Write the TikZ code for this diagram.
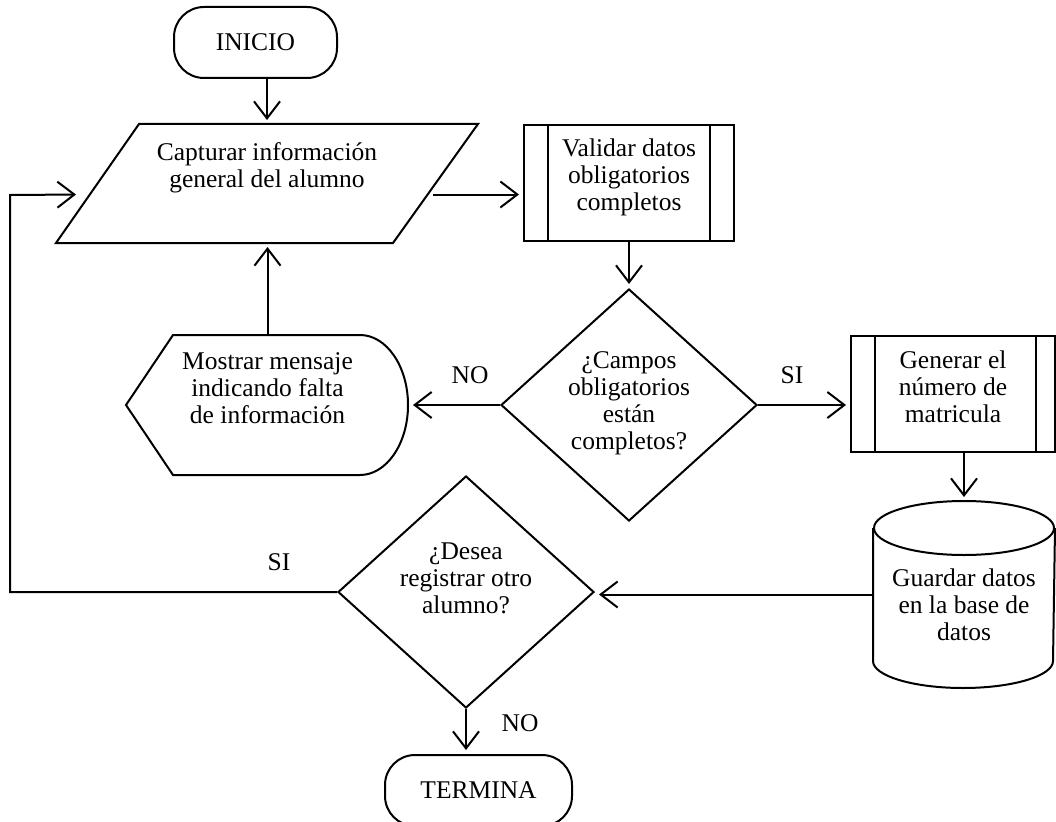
\documentclass[tikz,border=0pt]{standalone}
\usepackage{fontspec}
\setmainfont{Liberation Serif}
\usetikzlibrary{shapes.geometric}
\usetikzlibrary{calc}
\usetikzlibrary{arrows.meta}

\begin{document}
\begin{tikzpicture}[x=1pt, y=-1pt, line width=2pt, font=\fontsize{25.5}{27}\selectfont,
    flecha/.style={-{Straight Barb[length=17pt,width=26pt]}, shorten >=4pt},
    caja/.style={draw, rectangle, minimum width=210pt, minimum height=116pt, inner sep=0pt},
    decision/.style={draw, diamond, minimum width=256pt, minimum height=232pt, inner sep=0pt},
    terminal/.style={draw, rectangle, rounded corners=30pt, minimum height=71pt, inner sep=0pt},
    hueco/.style={minimum width=#1, inner sep=0pt},
    texto/.style={align=center, inner sep=0pt}]
    \useasboundingbox (0,0) rectangle (1056,821);

    \node[terminal, minimum width=163pt] (inicio) at (255.5,42.5) {INICIO};

    % datos de entrada
    \node[hueco=420pt, minimum height=117pt] (captura) at (267,183.5) {};
    \draw (captura.south west) -- ([xshift=83pt]captura.north west) -- (captura.north east)
          -- ([xshift=-85pt]captura.south east) -- cycle;
    \node[texto] (capturatxt) at ([yshift=16pt]captura.center) {Capturar información\\general del alumno};

    \node[caja] (validar) at (629,183) {};
    \draw ([xshift=25pt]validar.north west) -- ([xshift=25pt]validar.south west);
    \draw ([xshift=-25pt]validar.north east) -- ([xshift=-25pt]validar.south east);
    \node[texto] (validartxt) at ([yshift=6pt]validar.center) {Validar datos\\obligatorios\\completos};

    \node[decision] (campos) at (629,405) {};
    \node[texto] (campostxt) at ([yshift=2pt]campos.center) {¿Campos\\obligatorios\\están\\completos?};

    % pantalla
    \node[hueco=281pt, minimum height=140pt] (mostrar) at (267.5,405) {};
    \draw (mostrar.west) -- (173,335) -- (360,335) arc[start angle=90, end angle=-90, x radius=48pt, y radius=70pt] -- (173,475) -- cycle;
    \node[texto] (mostrartxt) at ([yshift=17pt]mostrar.center) {Mostrar mensaje\\indicando falta\\de información};

    \node[caja, minimum width=204pt] (generar) at (953,394) {};
    \draw ([xshift=25pt]generar.north west) -- ([xshift=25pt]generar.south west);
    \draw ([xshift=-20pt]generar.north east) -- ([xshift=-20pt]generar.south east);
    \node[texto] (generartxt) at ([yshift=7pt]generar.center) {Generar el\\número de\\matricula};

    % base de datos
    \node[hueco=180pt, minimum height=185pt] (guardar) at (964,594.5) {};
    \draw ([yshift=-27pt]guardar.north) ellipse [x radius=90pt, y radius=27pt];
    \draw ([yshift=-27pt]guardar.north west) -- ([yshift=27pt]guardar.south west)
          arc[start angle=180, end angle=360, x radius=90pt, y radius=27pt] -- ([yshift=-27pt]guardar.north east);
    \node[texto] (guardartxt) at ([yshift=-10pt]guardar.center) {Guardar datos\\en la base de\\datos};

    \node[decision] (otro) at (466,592) {};
    \node[texto] (otrotxt) at ([yshift=14pt]otro.center) {¿Desea\\registrar otro\\alumno?};

    \node[terminal, minimum width=187pt] (termina) at (478.5,790.5) {TERMINA};

    \coordinate (arranque) at ([xshift=11.5pt]inicio.south);
    \coordinate (salida) at ([xshift=-45pt,yshift=-11pt]captura.east);
    \coordinate (entrada) at ([xshift=24pt,yshift=-11pt]captura.west);
    \coordinate (vuelta) at (10,195);

    \draw[flecha] (arranque) -- (arranque |- captura.north);
    \draw[flecha] (salida) -- (salida -| validar.west);
    \draw[flecha] (validar) -- (campos);
    \draw[flecha] (campos.west) -- (mostrar.east);
    \draw[flecha] (campos.east) -- (campos.east -| generar.west);
    \draw[flecha] (mostrar.north) -- (mostrar.north |- captura.south);
    \draw[flecha] (guardar.north |- generar.south) -- (guardar.north);
    \draw[flecha] (guardar.west) -- (guardar.west -| otro.east);
    \draw[flecha] (otro.west) -| (vuelta) -- (entrada);
    \draw[flecha] (otro.south) -- (otro.south |- termina.north);

    \node[texto] (no1) at (470,375) {NO};
    \node[texto] (si1) at (792,375) {SI};
    \node[texto] (si2) at (279,562) {SI};
    \node[texto] (no2) at (520,723) {NO};
\end{tikzpicture}
\end{document}
